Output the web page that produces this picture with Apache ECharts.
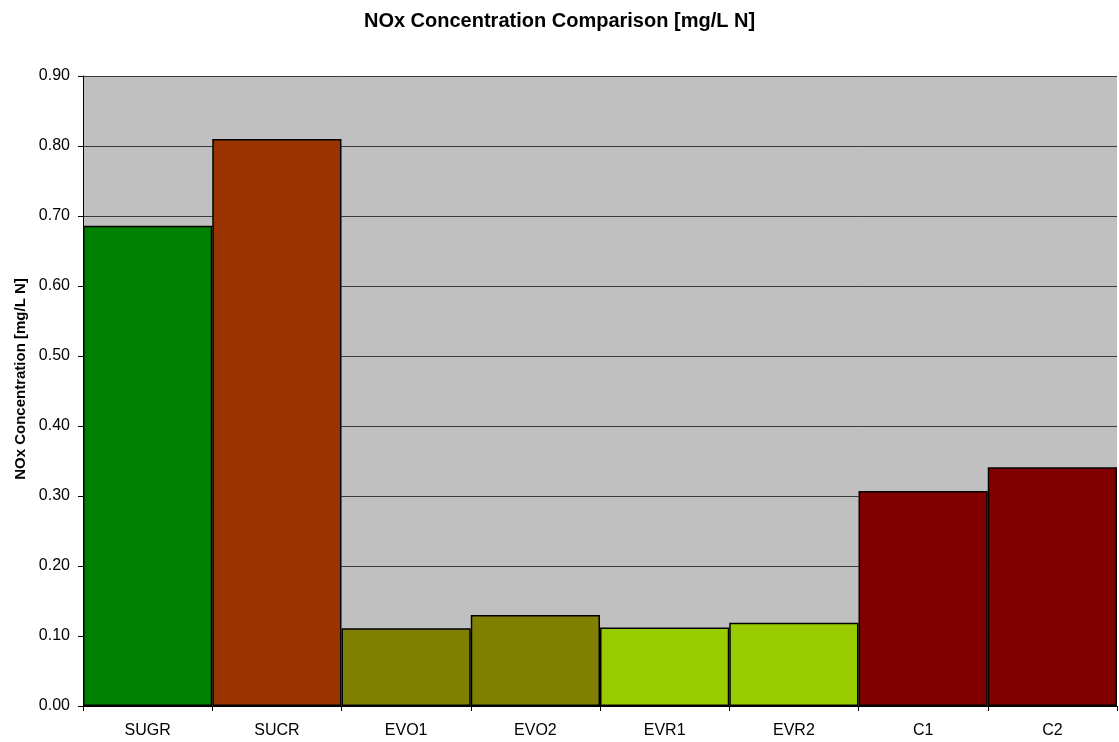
<!DOCTYPE html>
<html><head><meta charset="utf-8">
<script src="https://cdn.jsdelivr.net/npm/echarts@6/dist/echarts.min.js"></script>
<style>html,body{margin:0;padding:0;background:#fff}#c{width:1119px;height:742px}</style>
</head><body><div id="c"></div>
<script>
const categories = ["SUGR","SUCR","EVO1","EVO2","EVR1","EVR2","C1","C2"];
const values = [0.686, 0.810, 0.111, 0.130, 0.112, 0.119, 0.307, 0.341];
const colors = ["#008000","#993300","#808000","#808000","#99CC00","#99CC00","#800000","#800000"];
const titleText = "NOx Concentration Comparison [mg/L N]";
const yName = "NOx Concentration [mg/L N]";

const chart = echarts.init(document.getElementById('c'), null, {renderer:'canvas'});
chart.setOption({
  backgroundColor:'#fff',
  animation:false,
  title:{text:titleText,left:'center',top:6,textStyle:{fontFamily:'Liberation Sans, Arial',fontSize:20,fontWeight:'bold',color:'#000'}},
  grid:{left:83,right:2,top:76,bottom:36,show:true,backgroundColor:'#C0C0C0',borderWidth:0},
  xAxis:{type:'category',data:categories,boundaryGap:true,
    axisLine:{lineStyle:{color:'#000',width:1}},
    axisTick:{show:true,alignWithLabel:false,length:5,lineStyle:{color:'#000'}},
    axisLabel:{color:'#000',fontFamily:'Liberation Sans, Arial',fontSize:16,margin:17}},
  yAxis:{type:'value',min:0,max:0.9,interval:0.1,name:yName,nameLocation:'middle',nameGap:50,
    nameTextStyle:{fontFamily:'Liberation Sans, Arial',fontSize:15,fontWeight:'bold',color:'#000',padding:[0,0,0,24]},
    axisLine:{show:true,lineStyle:{color:'#000',width:1}},
    axisTick:{show:true,inside:false,length:5,lineStyle:{color:'#000'}},
    splitLine:{show:true,lineStyle:{color:'#3a3a3a',width:1}},
    axisLabel:{color:'#000',fontFamily:'Liberation Sans, Arial',fontSize:16,margin:13,formatter:v=>v.toFixed(2)}},
  series:[{type:'bar',barCategoryGap:'0%',
    data:values.map((v,i)=>({value:v,itemStyle:{color:colors[i]}})),
    itemStyle:{borderColor:'#000',borderWidth:1.5}}]
});
</script></body></html>
